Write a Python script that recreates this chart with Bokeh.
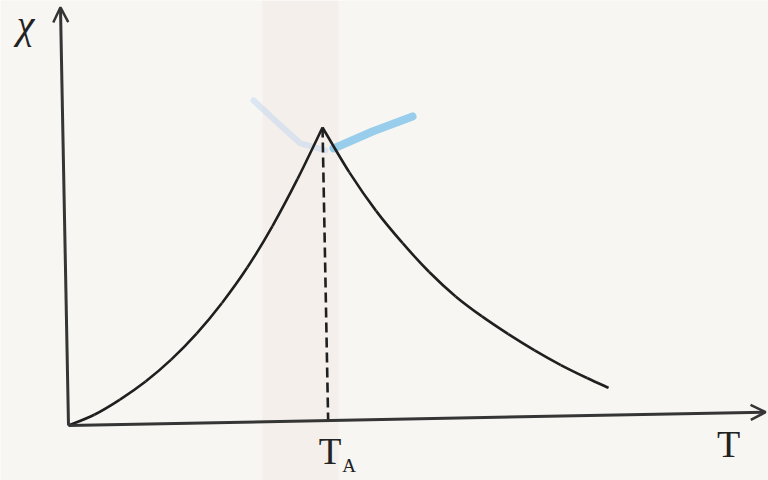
import numpy as np
from bokeh.plotting import figure
from bokeh.models import Range1d, Arrow, OpenHead, Label, BoxAnnotation
from bokeh.embed import file_html
from bokeh.resources import INLINE

# Susceptibility of an antiferromagnet, T in units of T_A, chi in units of chi(T_A)
t_below = [0.0, 0.1, 0.2, 0.3, 0.4, 0.5, 0.6, 0.7, 0.8, 0.9, 1.0]
chi_below = [0.0, 0.035, 0.085, 0.145, 0.218, 0.305, 0.408, 0.527, 0.667, 0.826, 1.0]
t_above = [1.0, 1.1, 1.2, 1.3, 1.4, 1.5, 1.6, 1.7, 1.8, 1.9, 2.0, 2.082]
chi_above = [1.0, 0.845, 0.712, 0.600, 0.500, 0.415, 0.345, 0.283, 0.226, 0.174, 0.128, 0.093]
T_A = 1.0
CHI_PEAK = 1.0
t_axis_end = 2.685
chi_axis_end = 1.427
x_label = "T"
y_label = "χ"
peak_label = ("T", "A")

# drawing scale (pixels per unit) and the slight tilt of the whole sketch
PX_T = 259.7
PX_CHI = 293.1
TILT = np.deg2rad(1.1)

INK = "#1f1f1f"
AXIS_INK = "#353535"
PAPER = "#f7f6f3"
SERIF = "Liberation Serif"


def place(t, c):
    u = np.atleast_1d(np.asarray(t, dtype=float)) * PX_T
    v = np.atleast_1d(np.asarray(c, dtype=float)) * PX_CHI
    return u * np.cos(TILT) - v * np.sin(TILT), u * np.sin(TILT) + v * np.cos(TILT)


def smooth_branch(p, t, c, **kw):
    # Catmull-Rom style cubic segments through the given points
    x, y = place(t, c)
    n = len(x)
    xe = np.concatenate([[x[0]], x, [x[-1]]])
    ye = np.concatenate([[y[0]], y, [y[-1]]])
    i = np.arange(1, n)
    cx0 = xe[i] + (xe[i + 1] - xe[i - 1]) / 6
    cy0 = ye[i] + (ye[i + 1] - ye[i - 1]) / 6
    cx1 = xe[i + 1] - (xe[i + 2] - xe[i]) / 6
    cy1 = ye[i + 1] - (ye[i + 2] - ye[i]) / 6
    p.bezier(x0=xe[i], y0=ye[i], x1=xe[i + 1], y1=ye[i + 1],
             cx0=cx0, cy0=cy0, cx1=cx1, cy1=cy1, **kw)


p = figure(width=768, height=480, x_range=Range1d(-68, 700), y_range=Range1d(-55, 425),
           output_backend="svg", toolbar_location=None, min_border=0,
           x_axis_location=None, y_axis_location=None)
p.grid.visible = False
p.outline_line_color = None
p.background_fill_color = PAPER
p.border_fill_color = PAPER

# faint fold in the paper
p.add_layout(BoxAnnotation(left=262, right=338, left_units="screen", right_units="screen",
                           fill_color="#f2e3df", fill_alpha=0.35, line_color=None, level="underlay"))

# axes with open arrow heads
ox, oy = place(0, 0)
xe_, ye_ = place(t_axis_end, 0)
p.add_layout(Arrow(x_start=ox[0], y_start=oy[0], x_end=xe_[0], y_end=ye_[0],
                   line_color=AXIS_INK, line_width=3,
                   end=OpenHead(size=15, line_color=AXIS_INK, line_width=2.5)))
yx_, yy_ = place(0, chi_axis_end)
p.add_layout(Arrow(x_start=ox[0], y_start=oy[0], x_end=yx_[0], y_end=yy_[0],
                   line_color=AXIS_INK, line_width=3,
                   end=OpenHead(size=15, line_color=AXIS_INK, line_width=2.5)))

# highlighter strokes around the peak
pkx, pky = place(T_A, CHI_PEAK)
p.line(pkx[0] + np.array([-69, -42, -22, 3]), pky[0] + np.array([27, 2, -16, -23]),
       line_color="#c3d8ee", line_width=6, line_alpha=0.55, line_cap="round")
p.line(pkx[0] + np.array([11, 50, 90]), pky[0] + np.array([-21, -4, 11]),
       line_color="#7fc3e8", line_width=8, line_alpha=0.8, line_cap="round")

# susceptibility curve
smooth_branch(p, t_below, chi_below, line_color=INK, line_width=2.6)
smooth_branch(p, t_above, chi_above, line_color=INK, line_width=2.6)

# dashed drop from the peak to the T axis
dx, dy = place([T_A, T_A], [CHI_PEAK, 0])
p.line(dx, dy, line_color=INK, line_width=2.6, line_dash="10 5")

# labels
LIFT = 14
p.add_layout(Label(x=yx_[0], y=yy_[0], x_offset=-35, y_offset=-31 + LIFT, text=y_label,
                   text_font=SERIF, text_font_size="40px", text_font_style="italic",
                   text_color="#222222", text_align="center", text_baseline="alphabetic"))
p.add_layout(Label(x=xe_[0], y=ye_[0], x_offset=-37, y_offset=-46 + LIFT, text=x_label,
                   text_font=SERIF, text_font_size="38px", text_color="#222222",
                   text_align="center", text_baseline="alphabetic"))
tax, tay = place(T_A, 0)
p.add_layout(Label(x=tax[0], y=tay[0], x_offset=2, y_offset=-45 + LIFT, text=peak_label[0],
                   text_font=SERIF, text_font_size="37px", text_color="#222222",
                   text_align="center", text_baseline="alphabetic"))
p.add_layout(Label(x=tax[0], y=tay[0], x_offset=14, y_offset=-59 + LIFT, text=peak_label[1],
                   text_font=SERIF, text_font_size="19px", text_color="#222222",
                   text_align="left", text_baseline="alphabetic"))

open("out.html", "w").write(file_html(p, INLINE))
